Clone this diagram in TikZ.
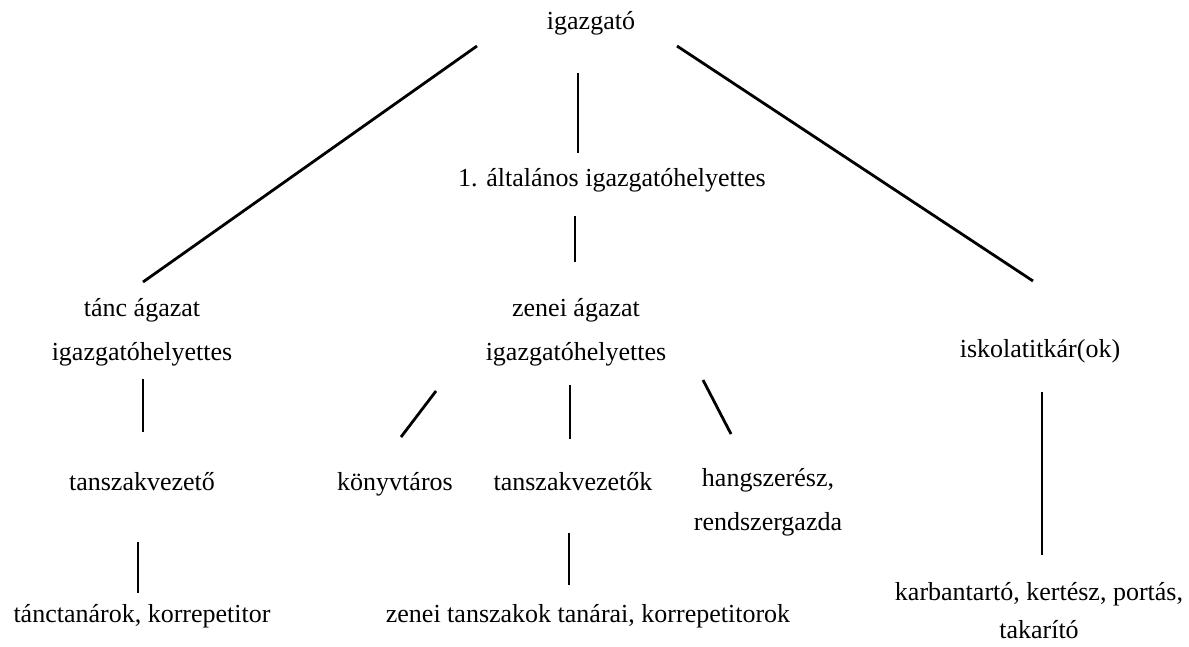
\documentclass[tikz,border=0pt]{standalone}
\usepackage{fontspec}
\setmainfont{Liberation Serif}
\begin{document}
\begin{tikzpicture}[x=1pt,y=-1pt,
  lbl/.style={inner sep=0pt, anchor=base, font=\fontsize{26}{44}\selectfont},
  lbltwo/.style={inner sep=0pt, anchor=north, align=center, font=\fontsize{26}{44}\selectfont},
  conn/.style={line width=2.8pt}]
\useasboundingbox (0,0) rectangle (1189,646);
% labels
\node[lbl] (dir) at (591,29) {igazgató};
\node[lbl] (gen) at (612,186) {1. általános igazgatóhelyettes};
\node[lbltwo] (tanc) at (142,298) {tánc ágazat\\igazgatóhelyettes};
\node[lbltwo] (zene) at (576,298) {zenei ágazat\\igazgatóhelyettes};
\node[lbl] (titk) at (1040,357) {iskolatitkár(ok)};
\node[lbl] (tszv) at (142,490) {tanszakvezető};
\node[lbl] (konyv) at (395,490) {könyvtáros};
\node[lbl] (tszvk) at (573,490) {tanszakvezetők};
\node[lbltwo] (hang) at (768,468) {hangszerész,\\rendszergazda};
\node[lbl] (tanctan) at (142,622) {tánctanárok, korrepetitor};
\node[lbl] (zentan) at (588,622) {zenei tanszakok tanárai, korrepetitorok};
\node[lbltwo, font=\fontsize{26}{38}\selectfont] (karb) at (1039,582) {karbantartó, kertész, portás,\\takarító};
% connector end points
\coordinate (a1) at (477,46);   \coordinate (a2) at (143,282);
\coordinate (b1) at (578,73);   \coordinate (b2) at (578,153);
\coordinate (c1) at (677,46);   \coordinate (c2) at (1033,281);
\coordinate (d1) at (575,216);  \coordinate (d2) at (575,262);
\coordinate (e1) at (143,379);  \coordinate (e2) at (143,432);
\coordinate (f1) at (436,391);  \coordinate (f2) at (401,437);
\coordinate (g1) at (570,385);  \coordinate (g2) at (570,439);
\coordinate (h1) at (703,380);  \coordinate (h2) at (731,434);
\coordinate (i1) at (1042,392); \coordinate (i2) at (1042,555);
\coordinate (j1) at (138,542);  \coordinate (j2) at (138,593);
\coordinate (k1) at (569,533);  \coordinate (k2) at (569,585);
% connectors
\draw[conn] (a1) -- (a2);
\draw[conn] (b1) -- (b2);
\draw[conn] (c1) -- (c2);
\draw[conn] (d1) -- (d2);
\draw[conn] (e1) -- (e2);
\draw[conn] (f1) -- (f2);
\draw[conn] (g1) -- (g2);
\draw[conn] (h1) -- (h2);
\draw[conn] (i1) -- (i2);
\draw[conn] (j1) -- (j2);
\draw[conn] (k1) -- (k2);
\end{tikzpicture}
\end{document}
